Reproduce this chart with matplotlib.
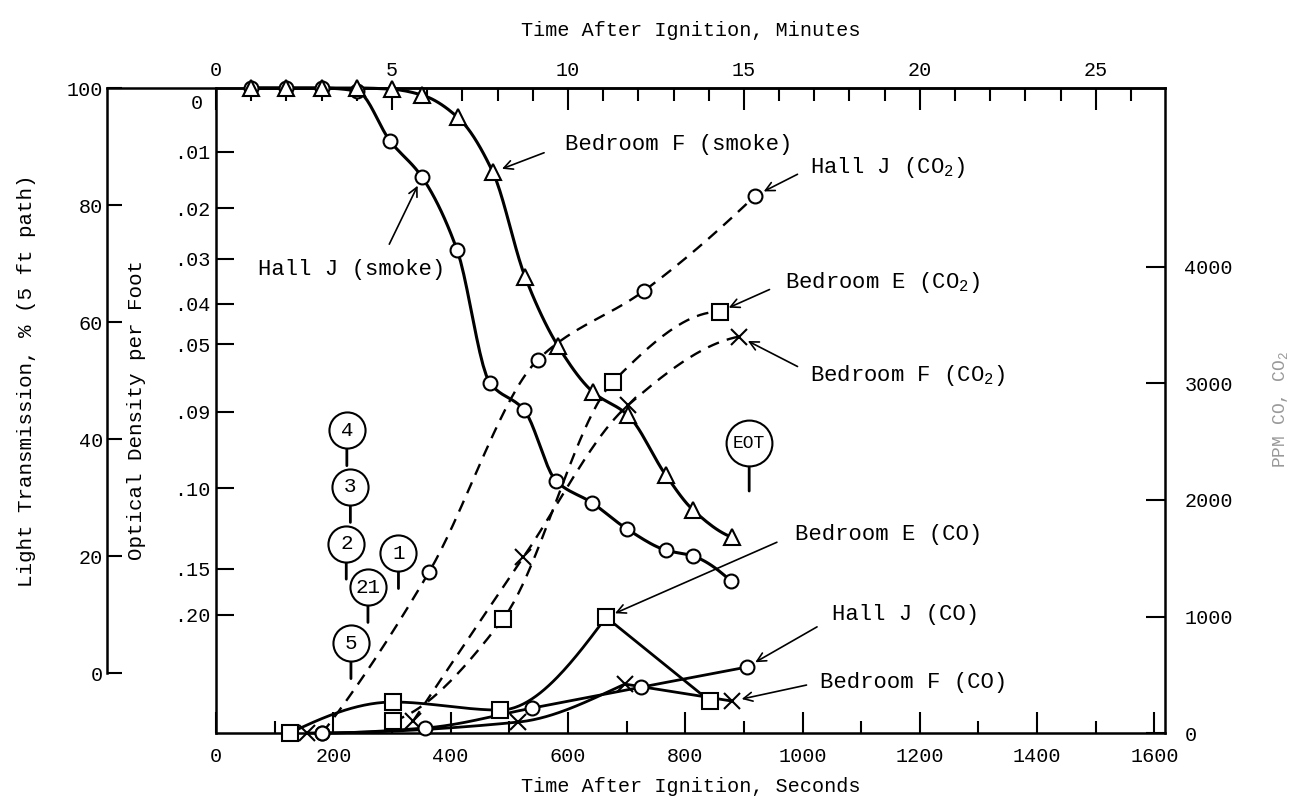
import numpy as np
import matplotlib.pyplot as plt

plt.rcParams['font.family'] = ['Liberation Mono', 'DejaVu Sans Mono']
plt.rcParams['mathtext.fontset'] = 'custom'
plt.rcParams['mathtext.rm'] = 'Liberation Mono'
plt.rcParams['mathtext.it'] = 'Liberation Mono'

# smoke: light transmission (%) vs time (s)
hallj_smoke_s = [60, 120, 180, 240, 297, 351, 411, 467, 525, 580, 641, 701, 767, 813, 878]
hallj_smoke_T = [100, 100, 100, 99.5, 90.9, 84.8, 72.3, 49.6, 45.0, 32.8, 29.1, 24.6, 21.0, 20.0, 15.7]
bedf_smoke_s = [60, 120, 180, 240, 300, 351, 412, 472, 527, 583, 643, 702, 767, 813, 880]
bedf_smoke_T = [100, 100, 100, 100, 99.8, 98.8, 95.0, 85.6, 67.7, 55.9, 48.0, 44.1, 33.8, 27.9, 23.2]

# gases: ppm vs time (s)
hallj_co2_s = [181, 363, 549, 730, 919]
hallj_co2_ppm = [0, 1380, 3205, 3796, 4610]
bede_co2_s = [302, 489, 677, 859]
bede_co2_ppm = [103, 977, 3016, 3616]
bedf_co2_s = [336, 524, 702, 892]
bedf_co2_ppm = [103, 1508, 2811, 3402]
bede_co_s = [126, 302, 484, 665, 842]
bede_co_ppm = [0, 266, 197, 994, 274]
hallj_co_s = [181, 356, 539, 725, 905]
hallj_co_ppm = [0, 43, 214, 394, 566]
bedf_co_s = [155, 515, 697, 880]
bedf_co_ppm = [0, 94, 420, 274]

# event markers (time s, height in % transmission)
event_labels = ['4', '3', '2', '21', '5', '1', 'EOT']
event_s = [223, 229, 222, 259, 230, 311, 909]
event_T = [41.5, 31.8, 22.1, 14.7, 5.1, 20.5, 39.3]

# axis ticks
sec_major = np.arange(0, 1601, 200)
sec_minor = np.arange(100, 1600, 200)
min_major = np.arange(0, 26, 5)
min_minor = np.arange(0, 27, 1)
trans_ticks = [0, 20, 40, 60, 80, 100]
od_values = [0.01, 0.02, 0.03, 0.04, 0.05, 0.07, 0.10, 0.15, 0.20]
od_labels = ['.01', '.02', '.03', '.04', '.05', '.09', '.10', '.15', '.20']
ppm_ticks = [0, 1000, 2000, 3000, 4000]


def pchip(x, y, n=150):
    x = np.asarray(x, float)
    y = np.asarray(y, float)
    if len(x) < 3:
        return np.linspace(x[0], x[-1], n), np.linspace(y[0], y[-1], n)
    h = np.diff(x)
    d = np.diff(y) / h
    m = np.zeros_like(y)
    for k in range(1, len(x) - 1):
        if d[k - 1] * d[k] > 0:
            w1 = 2 * h[k] + h[k - 1]
            w2 = h[k] + 2 * h[k - 1]
            m[k] = (w1 + w2) / (w1 / d[k - 1] + w2 / d[k])

    def end(h0, h1, d0, d1):
        s = ((2 * h0 + h1) * d0 - h0 * d1) / (h0 + h1)
        if np.sign(s) != np.sign(d0):
            s = 0.0
        elif np.sign(d0) != np.sign(d1) and abs(s) > abs(3 * d0):
            s = 3 * d0
        return s

    m[0] = end(h[0], h[1], d[0], d[1])
    m[-1] = end(h[-1], h[-2], d[-1], d[-2])
    xs = np.linspace(x[0], x[-1], n)
    i = np.clip(np.searchsorted(x, xs, side='right') - 1, 0, len(h) - 1)
    t = (xs - x[i]) / h[i]
    ys = ((2 * t**3 - 3 * t**2 + 1) * y[i] + (t**3 - 2 * t**2 + t) * h[i] * m[i]
          + (-2 * t**3 + 3 * t**2) * y[i + 1] + (t**3 - t**2) * h[i] * m[i + 1])
    return xs, ys


def draw(axis, xs, ys, marker, ms, lw, dashed=False, corner=None):
    kw = dict(color='k', lw=lw, clip_on=False, zorder=3)
    if dashed:
        kw['dashes'] = (5, 3.5)
    if corner is None:
        sx, sy = pchip(xs, ys)
        axis.plot(sx, sy, **kw)
    else:
        sx, sy = pchip(xs[:corner + 1], ys[:corner + 1])
        axis.plot(sx, sy, **kw)
        axis.plot(xs[corner:], ys[corner:], **kw)
    axis.plot(xs, ys, ls='none', marker=marker, ms=ms, mfc='white', mec='k',
              mew=1.5, clip_on=False, zorder=4)


fig = plt.figure(figsize=(12.93, 8.09), dpi=100)
ax = fig.add_axes([0.1671, 0.0939, 0.7339, 0.7973])
ax.set_xlim(0, 1618)
ax.set_ylim(-10.26, 100)
ax2 = ax.twinx()
ax2.set_ylim(0, 5535)

lw_sp = 1.8
for side in ['left', 'bottom', 'top']:
    ax.spines[side].set_linewidth(lw_sp)
ax.spines['right'].set_visible(False)
for side in ['left', 'bottom', 'top']:
    ax2.spines[side].set_visible(False)
ax2.spines['right'].set_linewidth(lw_sp)
ax.spines['top'].set_bounds(-0.1149 * 1618, 1618)

# bottom axis (seconds)
ax.set_xticks(sec_major)
ax.set_xticks(sec_minor, minor=True)
ax.tick_params(axis='x', which='major', direction='in', length=15, width=1.5,
               pad=10, labelsize=14.5)
ax.tick_params(axis='x', which='minor', direction='in', length=9, width=1.5)
ax.set_xlabel('Time After Ignition, Seconds', fontsize=14.5, labelpad=8)

# inner left axis (optical density per foot)
od_pos = [100 * 10 ** (-5 * v) for v in od_values]
ax.set_yticks(od_pos, od_labels)
ax.tick_params(axis='y', direction='in', length=13, width=1.5, pad=4, labelsize=14.5)
ax.annotate('0', xy=(0, 100), xytext=(-14, -11), textcoords='offset points',
            ha='center', va='center', fontsize=14.5, annotation_clip=False)

# outer left axis (light transmission)
secy = ax.secondary_yaxis(-0.1149)
secy.set_yticks(trans_ticks, [str(v) for v in trans_ticks])
secy.spines['left'].set_bounds(0, 100)
secy.spines['left'].set_linewidth(lw_sp)
secy.tick_params(axis='y', direction='in', length=11, width=1.5, pad=3, labelsize=14.5)

# top axis (minutes)
secx = ax.secondary_xaxis('top', functions=(lambda s: s / 60.0, lambda m: m * 60.0))
secx.set_xticks(min_major, [str(v) for v in min_major])
secx.set_xticks(min_minor, minor=True)
secx.tick_params(axis='x', which='major', direction='in', length=16, width=1.5,
                 pad=6, labelsize=14.5)
secx.tick_params(axis='x', which='minor', direction='in', length=9, width=1.5)
secx.spines['top'].set_linewidth(lw_sp)
secx.set_xlabel('Time After Ignition, Minutes', fontsize=14.5, labelpad=18)

# right axis (ppm)
ax2.set_yticks(ppm_ticks, [str(v) for v in ppm_ticks])
ax2.tick_params(axis='y', direction='in', length=14, width=1.5, pad=14, labelsize=14.5)

fig.text(27 / 1293, 1 - 381 / 809, 'Light Transmission, % (5 ft path)', rotation=90,
         ha='center', va='center', fontsize=15)
fig.text(137 / 1293, 1 - 410 / 809, 'Optical Density per Foot', rotation=90,
         ha='center', va='center', fontsize=15)
fig.text(1281 / 1293, 1 - 410 / 809, 'PPM CO, CO$_2$', rotation=90,
         ha='center', va='center', fontsize=13, color='0.6')

# smoke curves
draw(ax, hallj_smoke_s, hallj_smoke_T, 'o', 10, 2.2)
draw(ax, bedf_smoke_s, bedf_smoke_T, '^', 12, 2.2)

# gas curves
draw(ax2, hallj_co2_s, hallj_co2_ppm, 'o', 10, 1.7, dashed=True)
draw(ax2, bede_co2_s, bede_co2_ppm, 's', 11, 1.7, dashed=True)
draw(ax2, bedf_co2_s, bedf_co2_ppm, 'x', 11, 1.7, dashed=True)
draw(ax2, bede_co_s, bede_co_ppm, 's', 11, 2.0, corner=3)
draw(ax2, hallj_co_s, hallj_co_ppm, 'o', 10, 2.0)
draw(ax2, bedf_co_s, bedf_co_ppm, 'x', 11, 2.0, corner=2)

# event circles
for lab, s, t in zip(event_labels, event_s, event_T):
    big = lab == 'EOT'
    r = 16.5 if big else 13.0
    stem = 18.0 if big else 12.5
    ax.annotate('', xy=(s, t), xytext=(0, -r - stem), textcoords='offset points',
                arrowprops=dict(arrowstyle='-', lw=2.0, shrinkA=0, shrinkB=r))
    ax.scatter([s], [t], s=(2 * r) ** 2, facecolors='white', edgecolors='k',
               linewidths=1.5, zorder=5)
    ax.text(s, t, lab, ha='center', va='center', fontsize=13 if big else 15, zorder=6)

arrow = dict(arrowstyle='->', lw=1.2, color='k', mutation_scale=16, shrinkB=7)

ax.annotate('Bedroom F (smoke)', xy=(bedf_smoke_s[7], bedf_smoke_T[7]), xytext=(595, 90.3),
            ha='left', va='center', fontsize=16,
            arrowprops=dict(arrow, relpos=(0, 0.5), shrinkA=14))
ax.annotate('Hall J (smoke)', xy=(hallj_smoke_s[5], hallj_smoke_T[5]), xytext=(72, 68.9),
            ha='left', va='center', fontsize=16,
            arrowprops=dict(arrow, relpos=(0.66, 1.0), shrinkA=10))
ax2.annotate('Hall J (CO$_2$)', xy=(hallj_co2_s[4], hallj_co2_ppm[4]), xytext=(1013, 4850),
             ha='left', va='center', fontsize=16,
             arrowprops=dict(arrow, relpos=(0, 0.5), shrinkA=8))
ax2.annotate('Bedroom E (CO$_2$)', xy=(bede_co2_s[3], bede_co2_ppm[3]), xytext=(970, 3865),
             ha='left', va='center', fontsize=16,
             arrowprops=dict(arrow, relpos=(0, 0.5), shrinkA=10))
ax2.annotate('Bedroom F (CO$_2$)', xy=(bedf_co2_s[3], bedf_co2_ppm[3]), xytext=(1013, 3068),
             ha='left', va='center', fontsize=16,
             arrowprops=dict(arrow, relpos=(0, 0.6), shrinkA=8))
ax2.annotate('Bedroom E (CO)', xy=(bede_co_s[3], bede_co_ppm[3]), xytext=(987, 1705),
             ha='left', va='center', fontsize=16,
             arrowprops=dict(arrow, relpos=(0, 0.5), shrinkA=12))
ax2.annotate('Hall J (CO)', xy=(hallj_co_s[4], hallj_co_ppm[4]), xytext=(1050, 1020),
             ha='left', va='center', fontsize=16,
             arrowprops=dict(arrow, relpos=(0, 0.3), shrinkA=10))
ax2.annotate('Bedroom F (CO)', xy=(bedf_co_s[3], bedf_co_ppm[3]), xytext=(1030, 437),
             ha='left', va='center', fontsize=16,
             arrowprops=dict(arrow, relpos=(0, 0.5), shrinkA=8))

fig.savefig('out.png', dpi=100)
